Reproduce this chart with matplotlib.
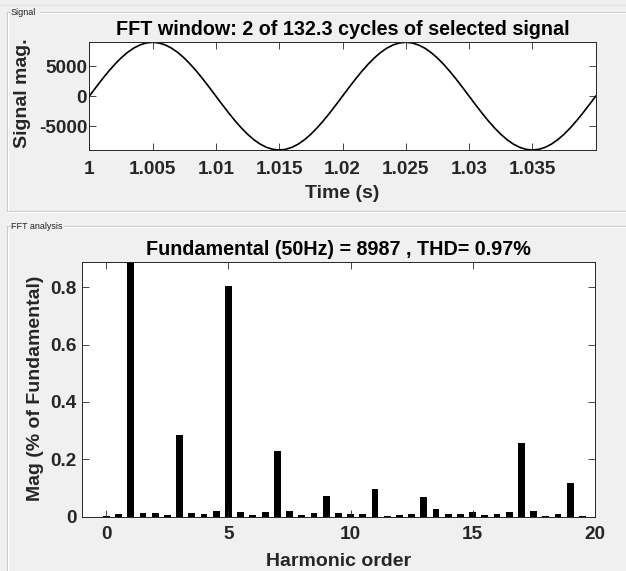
import matplotlib
matplotlib.use("Agg")
import matplotlib.pyplot as plt
from matplotlib.lines import Line2D

# ---------------- data ----------------
time_s = [1.0 + 0.0005 * k for k in range(81)]
signal_mag = [
    0, 1406, 2777, 4080, 5282, 6355, 7270, 8007, 8547, 8876,
    8987, 8876, 8547, 8007, 7270, 6355, 5282, 4080, 2777, 1406,
    0, -1406, -2777, -4080, -5282, -6355, -7270, -8007, -8547, -8876,
    -8987, -8876, -8547, -8007, -7270, -6355, -5282, -4080, -2777, -1406,
    0, 1406, 2777, 4080, 5282, 6355, 7270, 8007, 8547, 8876,
    8987, 8876, 8547, 8007, 7270, 6355, 5282, 4080, 2777, 1406,
    0, -1406, -2777, -4080, -5282, -6355, -7270, -8007, -8547, -8876,
    -8987, -8876, -8547, -8007, -7270, -6355, -5282, -4080, -2777, -1406,
    0,
]
time_ticks = [1, 1.005, 1.01, 1.015, 1.02, 1.025, 1.03, 1.035]
time_tick_labels = ["1", "1.005", "1.01", "1.015", "1.02", "1.025", "1.03", "1.035"]
signal_ticks = [-5000, 0, 5000]
signal_tick_labels = ["-5000", "0", "5000"]

harmonic_order = [i * 0.5 for i in range(40)]
mag_pct = [
    0.002, 0.008, 100.0, 0.014, 0.014, 0.006, 0.284, 0.014, 0.008, 0.019,
    0.805, 0.016, 0.006, 0.016, 0.229, 0.019, 0.006, 0.013, 0.073, 0.013,
    0.011, 0.008, 0.095, 0.004, 0.005, 0.010, 0.069, 0.026, 0.011, 0.010,
    0.015, 0.005, 0.008, 0.015, 0.256, 0.019, 0.002, 0.009, 0.116, 0.003,
]
harm_ticks = [0, 5, 10, 15, 20]
mag_ticks = [0, 0.2, 0.4, 0.6, 0.8]
mag_tick_labels = ["0", "0.2", "0.4", "0.6", "0.8"]

title_signal = "FFT window: 2 of 132.3 cycles of selected signal"
title_fft = "Fundamental (50Hz) = 8987 , THD= 0.97%"

# ---------------- layout ----------------
W, H = 626, 571
BG = "#f0f0f0"
AXC = "#262626"
FONT = "Liberation Sans"
plt.rcParams["font.family"] = [FONT, "DejaVu Sans"]
plt.rcParams["axes.unicode_minus"] = False

fig = plt.figure(figsize=(W / 100, H / 100), dpi=100, facecolor=BG)


def rect(l, t, r, b):
    return [l / W, 1 - b / H, (r - l) / W, (b - t) / H]


def hline(y, x0, x1, color):
    fig.add_artist(Line2D([x0 / W, x1 / W], [1 - y / H, 1 - y / H],
                          transform=fig.transFigure, color=color, lw=0.8, zorder=0.5))


def vline(x, y0, y1, color):
    fig.add_artist(Line2D([x / W, x / W], [1 - y0 / H, 1 - y1 / H],
                          transform=fig.transFigure, color=color, lw=0.8, zorder=0.5))


# panels (etched borders)
hline(4.5, 0, W, "#e2e2e2")
for (ytop, ybot, lab_end, label) in [(12, 211, 40, "Signal"), (226, 575, 64, "FFT analysis")]:
    hline(ytop, 7, 10, "#c8c8c8")
    hline(ytop, lab_end, W, "#c8c8c8")
    hline(ytop + 1, lab_end, W, "#ffffff")
    vline(7, ytop, ybot, "#c8c8c8")
    vline(8, ytop + 1, ybot, "#ffffff")
    fig.text(11 / W, 1 - (ytop + 3) / H, label, fontsize=6.5, color="#222222",
             family=FONT, va="baseline", ha="left")
hline(211, 7, W, "#c8c8c8")
hline(212, 7, W, "#ffffff")

# ---------------- signal axes ----------------
ax1 = fig.add_axes(rect(89.3, 42.3, 595.7, 150))
ax1.set_facecolor("white")
ax1.plot(time_s, signal_mag, color="black", lw=1.2)
ax1.set_xlim(time_s[0], time_s[-1])
ax1.set_ylim(min(signal_mag), max(signal_mag))
ax1.set_xticks(time_ticks)
ax1.set_xticklabels(time_tick_labels)
ax1.set_yticks(signal_ticks)
ax1.set_yticklabels(signal_tick_labels)
ax1.tick_params(axis="both", direction="in", top=True, right=True, length=5,
                width=0.6, color=AXC, labelcolor=AXC, labelsize=13.7)
ax1.tick_params(axis="x", pad=8)
ax1.tick_params(axis="y", pad=1.5)
for lab in ax1.get_xticklabels() + ax1.get_yticklabels():
    lab.set_fontweight("bold")
for s in ax1.spines.values():
    s.set_color(AXC)
    s.set_linewidth(0.7)
ax1.set_title(title_signal, fontsize=14.2, fontweight="bold", y=(150 - 35) / 107.7,
              pad=0, color="black")
ax1.set_xlabel("Time (s)", fontsize=14, fontweight="bold", color=AXC)
ax1.xaxis.label.set_va("baseline")
ax1.xaxis.set_label_coords(0.5, (150 - 198.3) / 107.7)
ax1.set_ylabel("Signal mag.", fontsize=14, fontweight="bold", color=AXC)
ax1.yaxis.label.set_va("center")
ax1.yaxis.set_label_coords((22.5 - 89.3) / 506.4, (150 - 93) / 107.7)

# ---------------- FFT axes ----------------
ax2 = fig.add_axes(rect(82, 262.3, 594.7, 516.7))
ax2.set_facecolor("white")
ax2.bar(harmonic_order, mag_pct, width=0.28, color="black", edgecolor="none")
ax2.set_xlim(-1, 20)
ax2.set_ylim(0, 0.887)
ax2.set_xticks(harm_ticks)
ax2.set_yticks(mag_ticks)
ax2.set_yticklabels(mag_tick_labels)
ax2.tick_params(axis="both", direction="in", top=True, right=True, length=5,
                width=0.6, color=AXC, labelcolor=AXC, labelsize=13.7)
ax2.tick_params(axis="x", pad=7)
ax2.tick_params(axis="y", pad=4)
for lab in ax2.get_xticklabels() + ax2.get_yticklabels():
    lab.set_fontweight("bold")
for s in ax2.spines.values():
    s.set_color(AXC)
    s.set_linewidth(0.7)
ax2.set_title(title_fft, fontsize=14.2, fontweight="bold", y=(516.7 - 255) / 254.4,
              pad=0, color="black")
ax2.set_xlabel("Harmonic order", fontsize=14, fontweight="bold", color=AXC)
ax2.xaxis.label.set_va("baseline")
ax2.xaxis.set_label_coords(0.5, (516.7 - 566) / 254.4)
ax2.set_ylabel("Mag (% of Fundamental)", fontsize=14, fontweight="bold", color=AXC)
ax2.yaxis.label.set_va("center")
ax2.yaxis.set_label_coords((36 - 82) / 512.7, (516.7 - 388.5) / 254.4)

fig.savefig("out.png", dpi=100, facecolor=BG)
